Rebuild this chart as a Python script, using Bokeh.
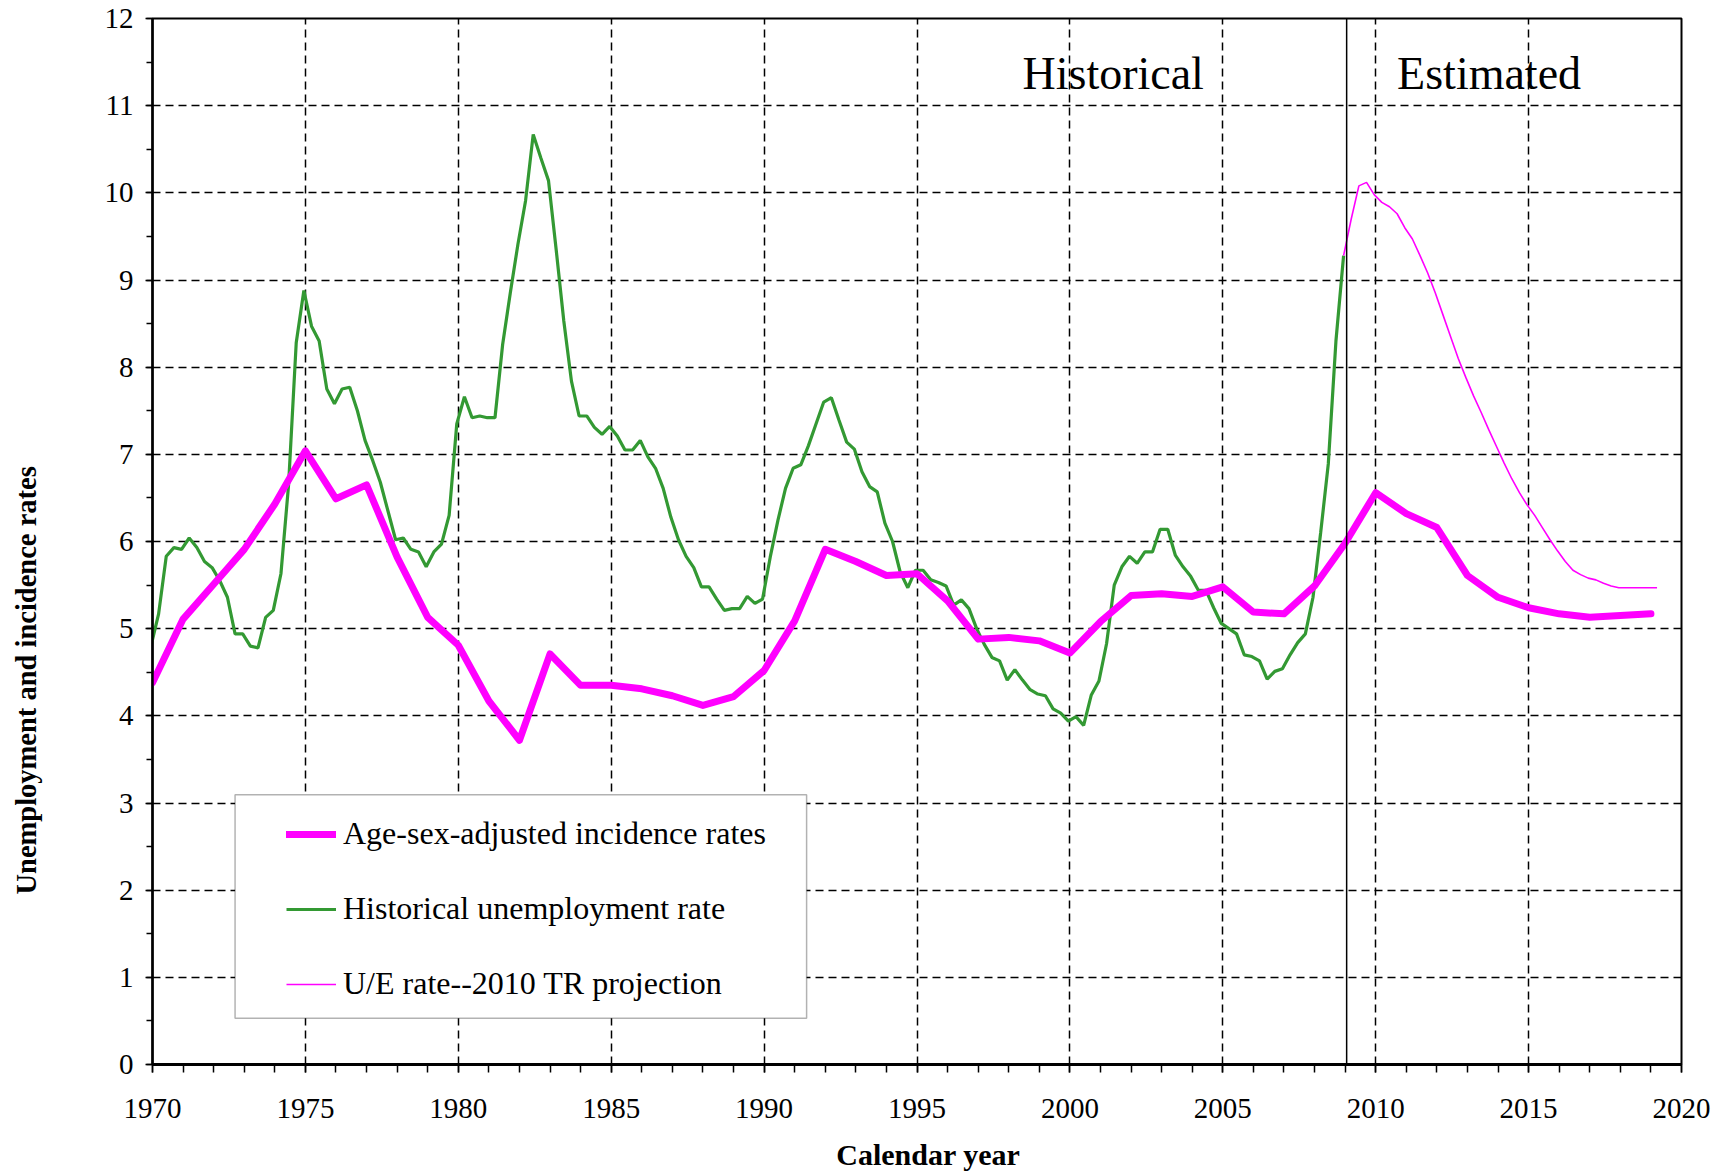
from bokeh.plotting import figure
from bokeh.layouts import row, column
from bokeh.models import (SingleIntervalTicker, Range1d, Span, Label, Legend,
                          LegendItem, BoxAnnotation)
from bokeh.embed import file_html
from bokeh.resources import INLINE
import math

# ---------------- data ----------------
years = list(range(1970, 2020))
incidence = [4.38, 5.11, 5.51, 5.91, 6.43, 7.04, 6.49, 6.65, 5.82, 5.13,
             4.81, 4.17, 3.72, 4.71, 4.35, 4.35, 4.31, 4.23, 4.12, 4.22,
             4.52, 5.09, 5.91, 5.77, 5.61, 5.63, 5.32, 4.88, 4.90, 4.86,
             4.72, 5.08, 5.38, 5.40, 5.37, 5.48, 5.19, 5.17, 5.49, 5.98,
             6.56, 6.32, 6.16, 5.61, 5.36, 5.24, 5.17, 5.13, 5.15, 5.17]

# quarterly historical unemployment rate, 1970Q1 .. 2009Q2
unemp_start = 1969.7
quarter = 0.25
unemp = [4.20, 4.80, 5.17, 5.83,
         5.93, 5.91, 6.04, 5.93,
         5.77, 5.70, 5.55, 5.36,
         4.94, 4.94, 4.80, 4.78,
         5.13, 5.21, 5.63, 6.65,
         8.28, 8.88, 8.47, 8.30,
         7.75, 7.58, 7.75, 7.77,
         7.50, 7.16, 6.93, 6.68,
         6.35, 6.02, 6.04, 5.91,
         5.88, 5.71, 5.88, 5.97,
         6.30, 7.35, 7.66, 7.42,
         7.44, 7.42, 7.42, 8.26,
         8.85, 9.41, 9.91, 10.67,
         10.40, 10.14, 9.35, 8.53,
         7.84, 7.44, 7.44, 7.31,
         7.23, 7.32, 7.21, 7.05,
         7.05, 7.16, 6.97, 6.84,
         6.61, 6.28, 6.02, 5.83,
         5.70, 5.48, 5.48, 5.34,
         5.21, 5.23, 5.23, 5.37,
         5.29, 5.34, 5.82, 6.24,
         6.61, 6.84, 6.88, 7.10,
         7.35, 7.60, 7.65, 7.39,
         7.14, 7.06, 6.80, 6.63,
         6.57, 6.21, 6.00, 5.65,
         5.47, 5.67, 5.67, 5.56,
         5.53, 5.49, 5.27, 5.33,
         5.23, 5.00, 4.82, 4.67,
         4.63, 4.41, 4.53, 4.41,
         4.30, 4.25, 4.23, 4.08,
         4.03, 3.94, 3.99, 3.89,
         4.24, 4.40, 4.83, 5.50,
         5.71, 5.83, 5.75, 5.88,
         5.88, 6.14, 6.14, 5.84,
         5.71, 5.60, 5.44, 5.44,
         5.24, 5.06, 5.00, 4.94,
         4.70, 4.68, 4.63, 4.42,
         4.51, 4.54, 4.70, 4.84,
         4.94, 5.36, 6.10, 6.89,
         8.30, 9.28]

# quarterly U/E rate, 2010 Trustees Report projection
proj_start = 2008.95
proj = [9.28, 9.70, 10.08, 10.12, 9.98, 9.89, 9.84, 9.76, 9.60, 9.47,
        9.28, 9.08, 8.85, 8.60, 8.35, 8.10, 7.88, 7.67, 7.48, 7.28,
        7.09, 6.90, 6.72, 6.56, 6.42, 6.30, 6.16, 6.02, 5.89, 5.77,
        5.67, 5.62, 5.58, 5.56, 5.52, 5.49, 5.47, 5.47, 5.47, 5.47,
        5.47, 5.47]

x_ticks_interval = 5
y_ticks_interval = 1
divider_year = 2009.05
legend_labels = ["Age-sex-adjusted incidence rates",
                 "Historical unemployment rate",
                 "U/E rate--2010 TR projection"]
period_labels = ["Historical", "Estimated"]
x_title = "Calendar year"
y_title = "Unemployment and incidence rates"

unemp_x = [unemp_start + quarter * i for i in range(len(unemp))]
proj_x = [proj_start + quarter * i for i in range(len(proj))]

# ---------------- figure ----------------
SERIF = "Liberation Serif"
MAGENTA = "#FF00FF"
GREEN = "#339933"
TOTAL_W, TOTAL_H = 1727, 1172
LABEL_W = 52
BOTTOM_H = 40
MAIN_W = TOTAL_W - LABEL_W
MAIN_H = TOTAL_H - BOTTOM_H

p = figure(width=MAIN_W, height=MAIN_H,
           x_range=Range1d(1970, 2020), y_range=Range1d(0, 12),
           output_backend="svg", toolbar_location=None,
           min_border_left=100, min_border_right=46, min_border_top=18,
           min_border_bottom=68, background_fill_color="white",
           border_fill_color="white")

p.outline_line_color = "black"
p.outline_line_width = 2

xt = SingleIntervalTicker(interval=x_ticks_interval, num_minor_ticks=5)
yt = SingleIntervalTicker(interval=y_ticks_interval, num_minor_ticks=2)
p.xaxis.ticker = xt
p.yaxis.ticker = yt
p.xgrid.ticker = xt
p.ygrid.ticker = yt

for g in (p.xgrid, p.ygrid):
    g.grid_line_color = "black"
    g.grid_line_dash = "8 5"
    g.grid_line_width = 1.5

for ax in (p.xaxis, p.yaxis):
    ax.major_label_text_font = SERIF
    ax.major_label_text_font_size = "29px"
    ax.major_label_text_color = "black"
    ax.major_tick_in = 0
    ax.minor_tick_in = 0
    ax.major_tick_line_color = "black"
    ax.minor_tick_line_color = "black"
    ax.major_tick_line_width = 1.5
    ax.minor_tick_line_width = 1.5
    ax.axis_line_color = "black"

p.xaxis.axis_line_width = 3
p.yaxis.axis_line_width = 2.5
p.xaxis.major_tick_out = 8
p.xaxis.minor_tick_out = 8
p.xaxis.major_label_standoff = 26
p.yaxis.major_tick_out = 7
p.yaxis.minor_tick_out = 6
p.yaxis.major_label_standoff = 12

# ---------------- series ----------------
r_unemp = p.line(unemp_x, unemp, line_color=GREEN, line_width=3.2)
r_proj = p.line(proj_x, proj, line_color=MAGENTA, line_width=1.6)
r_inc = p.line(years, incidence, line_color=MAGENTA, line_width=7,
               line_cap="round", line_join="round")

# divider between historical and estimated
p.add_layout(Span(location=divider_year, dimension="height",
                  line_color="black", line_width=1.5))

p.add_layout(Label(x=1998.45, y=11.37, text=period_labels[0], text_font=SERIF,
                   text_font_size="46px", text_color="black",
                   text_baseline="middle"))
p.add_layout(Label(x=2010.70, y=11.37, text=period_labels[1], text_font=SERIF,
                   text_font_size="46px", text_color="black",
                   text_baseline="middle"))

# ---------------- legend ----------------
p.add_layout(BoxAnnotation(left=1972.70, right=1991.39, bottom=0.531, top=3.095,
                           fill_color="white", fill_alpha=1.0,
                           line_color="black", line_width=1.5))

legend = Legend(items=[LegendItem(label=legend_labels[0], renderers=[r_inc]),
                       LegendItem(label=legend_labels[1], renderers=[r_unemp]),
                       LegendItem(label=legend_labels[2], renderers=[r_proj])],
                location=(134, 62), padding=0, margin=0, spacing=38,
                glyph_width=50, glyph_height=30, label_height=30,
                label_standoff=7, label_text_font=SERIF,
                label_text_font_size="32px", label_text_color="black",
                border_line_alpha=0, background_fill_alpha=0)
p.add_layout(legend)


def strip(w, h):
    f = figure(width=w, height=h, x_range=Range1d(0, w), y_range=Range1d(0, h),
               output_backend="svg", toolbar_location=None, min_border=0,
               x_axis_type=None, y_axis_type=None, outline_line_color=None,
               background_fill_color="white", border_fill_color="white")
    f.xgrid.visible = False
    f.ygrid.visible = False
    return f


# ---------------- y-axis title (left strip), anchored at its start ----------------
lab = strip(LABEL_W, TOTAL_H)
lab.add_layout(Label(x=26, y=278, text=y_title, angle=math.pi / 2,
                     text_font=SERIF, text_font_style="bold",
                     text_font_size="28.5px", text_align="left",
                     text_baseline="middle", text_color="black"))

# ---------------- x-axis title (bottom strip), anchored at its start ----------------
bot = strip(MAIN_W, BOTTOM_H)
bot.add_layout(Label(x=749, y=18, text=x_title, text_font=SERIF,
                     text_font_style="bold", text_font_size="30px",
                     text_align="left", text_baseline="middle",
                     text_color="black"))

layout = row(lab, column(p, bot, spacing=0), spacing=0)
open("out.html", "w").write(file_html(layout, INLINE))
